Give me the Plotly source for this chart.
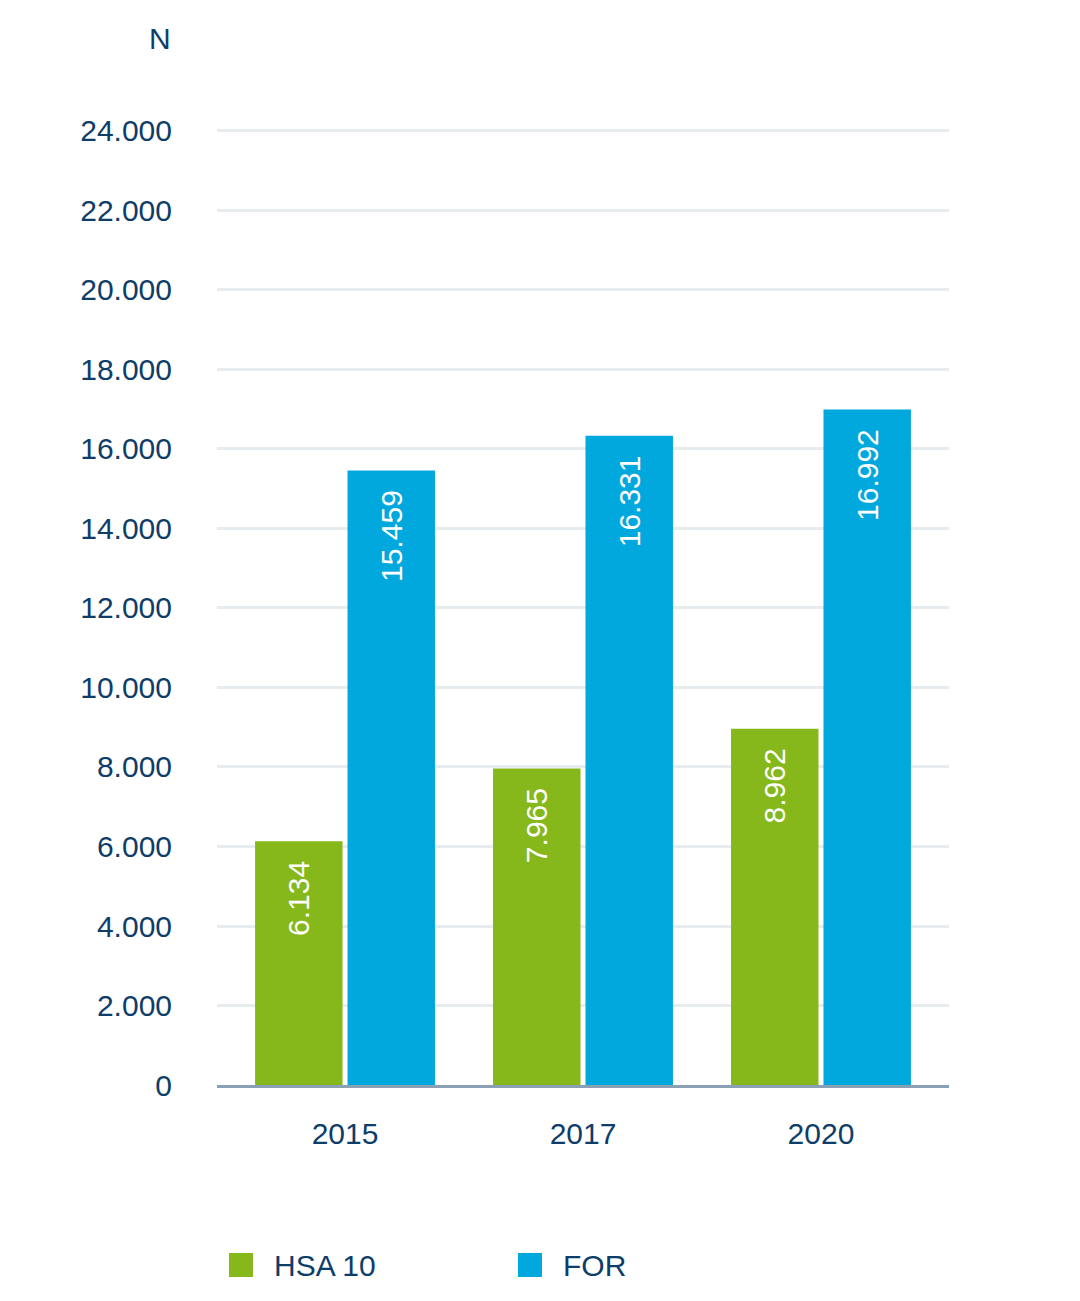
import plotly.graph_objects as go

years = ["2015", "2017", "2020"]
series_names = ["HSA 10", "FOR"]
hsa10 = [6134, 7965, 8962]
for_vals = [15459, 16331, 16992]
y_ticks = list(range(0, 24001, 2000))

GREEN = "#86B81B"
BLUE = "#00A8DE"
TEXT = "#0E3D6A"
FONT = "Liberation Sans"
FS = 30

OFF = 8  # page body margin
W, H = 1080 - 2 * OFF, 1301 - 2 * OFF
Y_TOP = 24100
PX_PER = 954 / 24000
PH = round(Y_TOP * PX_PER)
PW = 732
ML = 217 - OFF
MT = (1085 - PH) - OFF
MR = W - ML - PW
MB = H - MT - PH
BASE = 1085 - OFF  # y of zero line in figure px


def py(page_y):
    return (BASE - (page_y - OFF)) / PH


def px(page_x):
    return (page_x - OFF - ML) / PW


fig = go.Figure()
for name, vals, col in [(series_names[0], hsa10, GREEN), (series_names[1], for_vals, BLUE)]:
    fig.add_trace(go.Bar(
        x=years, y=vals, name=name, marker=dict(color=col, line=dict(width=0)),
        texttemplate="%{y:,d}\u00a0\u00a0", textposition="inside", insidetextanchor="end",
        textangle=-90, textfont=dict(color="white", size=FS, family=FONT),
        showlegend=False,
    ))

fig.update_layout(
    width=W, height=H,
    margin=dict(l=ML, r=MR, t=MT, b=MB),
    paper_bgcolor="white", plot_bgcolor="white",
    barmode="group", bargap=0.223, bargroupgap=0.054,
    separators=",.",
    font=dict(family=FONT, size=FS, color=TEXT),
)
fig.update_xaxes(
    type="category", range=[-0.538, 2.538],
    showline=True, linecolor="#8AA0B4", linewidth=3,
    showgrid=False, ticks="", ticklabelstandoff=20,
    tickfont=dict(size=FS, color=TEXT, family=FONT),
)
fig.update_yaxes(
    range=[0, Y_TOP], tickvals=y_ticks, tickformat=",d",
    showgrid=True, gridcolor="#E7ECEE", gridwidth=3,
    zeroline=False, showline=False, ticks="", ticklabelstandoff=44,
    tickfont=dict(size=FS, color=TEXT, family=FONT),
)

# axis unit label
fig.add_annotation(text="N", xref="paper", yref="paper",
                   x=px(173), y=py(38),
                   xanchor="right", yanchor="middle", showarrow=False,
                   font=dict(size=FS, color=TEXT, family=FONT))

# legend drawn as layout decoration
leg_x = [229, 518]
leg_cols = [GREEN, BLUE]
for name, lx, col in zip(series_names, leg_x, leg_cols):
    fig.add_shape(type="rect", xref="paper", yref="paper",
                  x0=px(lx), x1=px(lx + 24),
                  y0=py(1277), y1=py(1253),
                  fillcolor=col, line=dict(width=0))
    fig.add_annotation(text=name, xref="paper", yref="paper",
                       x=px(lx + 43), y=py(1265),
                       xanchor="left", yanchor="middle", showarrow=False,
                       font=dict(size=FS, color=TEXT, family=FONT))

fig.write_html("out.html")
